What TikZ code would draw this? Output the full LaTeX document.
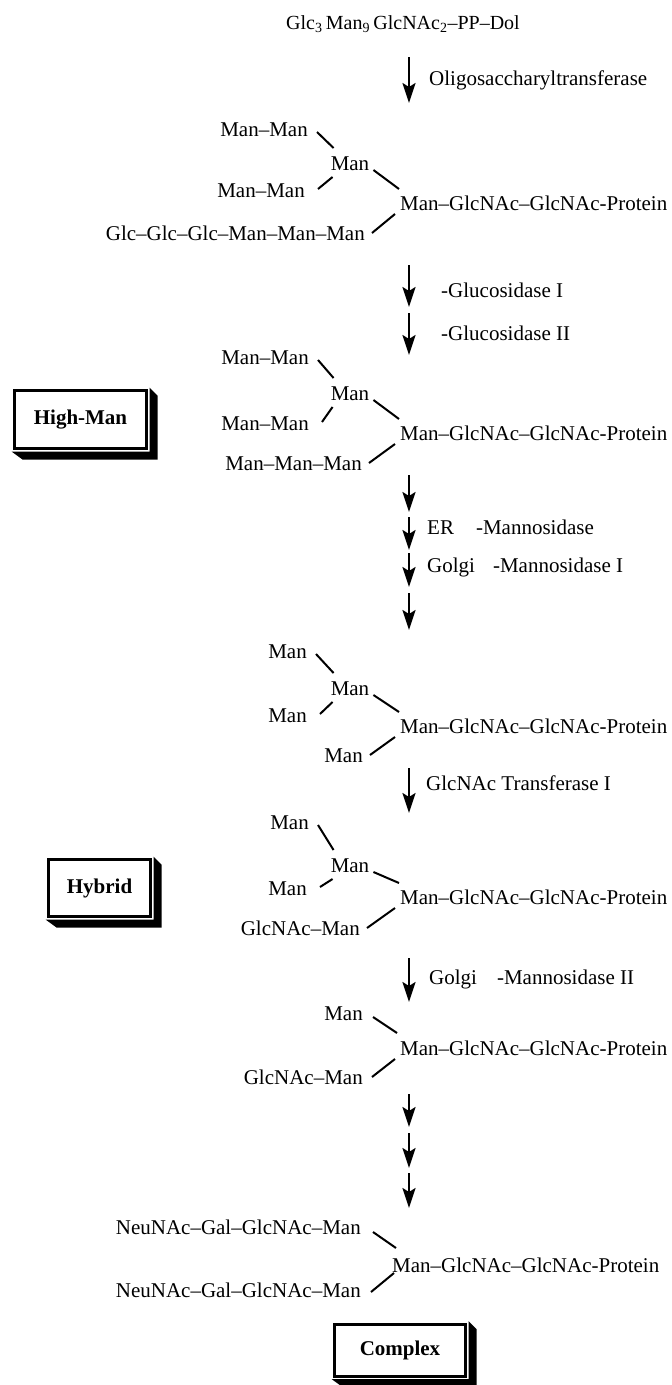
\documentclass[tikz,border=0pt]{standalone}
\usepackage{fontspec}
\setmainfont{Liberation Serif}
\usetikzlibrary{arrows.meta,calc}
\newcommand\fs{\fontsize{21}{25}\selectfont}
\begin{document}
\begin{tikzpicture}[x=1pt,y=-1pt,
  lbl/.style={inner sep=0pt, font=\fs},
  bond/.style={line width=2pt},
  rxn/.style={line width=2.2pt, -{Stealth[length=20pt,width=13pt,inset=4pt]}},
  stage/.style={draw, line width=3pt, fill=white, inner sep=0pt, font=\fs\bfseries},
  shade/.style={fill=black}]
\useasboundingbox (0,0) rectangle (672,1385);
\fill[white] (0,0) rectangle (672,1385);

% title
\node[lbl, anchor=base west, font=\fontsize{20}{24}\selectfont] (title) at (286,29)
  {Glc\textsubscript{3}\,Man\textsubscript{9}\,GlcNAc\textsubscript{2}–PP–Dol};

% reaction arrows
\foreach \n/\ys/\ye in {1/57/103, 2/265/307, 3/313/355, 4/475/512, 5/517/550, 6/553/587,
    7/593/630, 8/768/813, 9/958/1002, 10/1094/1127, 11/1133/1168, 12/1173/1208}{
  \coordinate (s\n) at (409,\ys);
  \coordinate (e\n) at (409,\ye);
  \draw[rxn] (s\n) -- (e\n);
}

% enzyme labels
\node[lbl, anchor=base west] (l1) at (429,85) {Oligosaccharyltransferase};
\node[lbl, anchor=base west] (l2) at (441,297) {-Glucosidase I};
\node[lbl, anchor=base west] (l3) at (441,340) {-Glucosidase II};
\node[lbl, anchor=base west] (l4) at (427,534) {ER\hspace{22pt}-Mannosidase};
\node[lbl, anchor=base west] (l5) at (427,572) {Golgi\hspace{18pt}-Mannosidase I};
\node[lbl, anchor=base west] (l6) at (426,790) {GlcNAc Transferase I};
\node[lbl, anchor=base west] (l7) at (429,984) {Golgi\hspace{20pt}-Mannosidase II};

% ---------- block 1
\node[lbl, anchor=base east] (a1) at (308,136) {Man–Man};
\node[lbl, anchor=base] (c1) at (350,170) {Man};
\node[lbl, anchor=base east] (m1) at (305,197) {Man–Man};
\node[lbl, anchor=base west] (p1) at (400,210) {Man–GlcNAc–GlcNAc-Protein};
\node[lbl, anchor=base east] (z1) at (365,240) {Glc–Glc–Glc–Man–Man–Man};
% ---------- block 2
\node[lbl, anchor=base east] (a2) at (309,364) {Man–Man};
\node[lbl, anchor=base] (c2) at (350,400) {Man};
\node[lbl, anchor=base east] (m2) at (309,430) {Man–Man};
\node[lbl, anchor=base west] (p2) at (400,440) {Man–GlcNAc–GlcNAc-Protein};
\node[lbl, anchor=base east] (z2) at (362,470) {Man–Man–Man};
% ---------- block 3
\node[lbl, anchor=base east] (a3) at (307,658) {Man};
\node[lbl, anchor=base] (c3) at (350,695) {Man};
\node[lbl, anchor=base east] (m3) at (307,722) {Man};
\node[lbl, anchor=base west] (p3) at (400,733) {Man–GlcNAc–GlcNAc-Protein};
\node[lbl, anchor=base east] (z3) at (363,762) {Man};
% ---------- block 4
\node[lbl, anchor=base east] (a4) at (309,829) {Man};
\node[lbl, anchor=base] (c4) at (350,872) {Man};
\node[lbl, anchor=base east] (m4) at (307,895) {Man};
\node[lbl, anchor=base west] (p4) at (400,904) {Man–GlcNAc–GlcNAc-Protein};
\node[lbl, anchor=base east] (z4) at (360,935) {GlcNAc–Man};

% bonds for the four branched blocks
\foreach \b in {1,2,3,4}{
  \draw[bond] ($(a\b.base east)+(9,-4)$) -- ($(c\b.base west)+(3,-22)$);
  \draw[bond] ($(c\b.base east)+(4,0)$) -- ($(p\b.base west)+(-1,-21)$);
  \draw[bond] ($(m\b.base east)+(13,-8)$) -- ($(c\b.base west)+(2,7)$);
  \draw[bond] ($(z\b.base east)+(7,-7)$) -- ($(p\b.base west)+(-5,4)$);
}

% ---------- block 5
\node[lbl, anchor=base east] (a5) at (363,1020) {Man};
\node[lbl, anchor=base west] (p5) at (400,1055) {Man–GlcNAc–GlcNAc-Protein};
\node[lbl, anchor=base east] (z5) at (363,1084) {GlcNAc–Man};
\draw[bond] ($(a5.base east)+(10,-3)$) -- ($(p5.base west)+(-3,-22)$);
\draw[bond] ($(z5.base east)+(9,-7)$) -- ($(p5.base west)+(-5,4)$);

% ---------- block 6
\node[lbl, anchor=base east] (a6) at (361,1234) {NeuNAc–Gal–GlcNAc–Man};
\node[lbl, anchor=base west] (p6) at (392,1272) {Man–GlcNAc–GlcNAc-Protein};
\node[lbl, anchor=base east] (z6) at (361,1297) {NeuNAc–Gal–GlcNAc–Man};
\draw[bond] ($(a6.base east)+(12,-2)$) -- ($(p6.base west)+(4,-24)$);
\draw[bond] ($(z6.base east)+(10,-5)$) -- ($(p6.base west)+(2,1)$);

% ---------- stage boxes
\node[stage, minimum width=132pt, minimum height=58pt] (hm) at (80.5,419.5) {High-Man};
\node[stage, minimum width=102pt, minimum height=57pt] (hy) at (99.5,888) {Hybrid};
\node[stage, minimum width=131pt, minimum height=52pt] (cx) at (400,1350) {Complex};
\foreach \bx in {hm,hy,cx}{
  \fill[shade] ($(\bx.north east)+(1.5,-1.5)$) -- ++(8,8) -- ($(\bx.south east)+(9.5,9.5)$)
    -- ($(\bx.south west)+(9.5,9.5)$) -- ($(\bx.south west)+(-1.5,1.5)$)
    -- ($(\bx.south east)+(1.5,1.5)$) -- cycle;
}
\end{tikzpicture}
\end{document}
